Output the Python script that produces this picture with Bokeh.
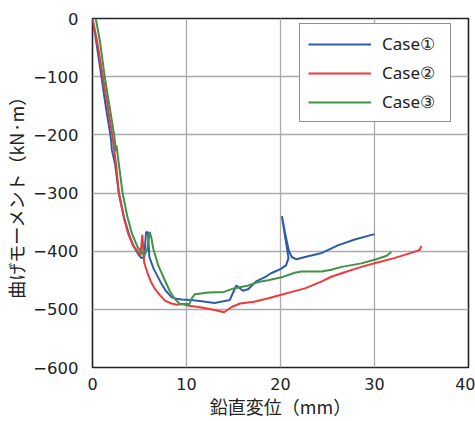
from bokeh.plotting import figure
from bokeh.models import Range1d, FixedTicker, Legend, LegendItem
from bokeh.embed import file_html
from bokeh.resources import INLINE

# ---- data (x: 鉛直変位 mm, y: 曲げモーメント kN·m) ----
case1_x = [0, 0.4, 0.95, 1.4, 1.9, 2.0, 2.05, 2.4, 2.8, 3.4, 3.9, 4.4, 4.9, 5.2, 5.5, 5.7, 5.9, 6.05,
           6.5, 7.3, 7.8, 8.4, 8.9, 9.5, 10.5, 11.6, 13.0, 14.6, 15.3, 16.0, 16.6, 17.4, 18.3, 19.0,
           20.1, 20.6, 20.85, 20.15, 20.5, 20.9, 21.2, 21.7, 22.6, 24.4, 26.1, 27.9, 29.7, 30.0]
case1_y = [0, -40, -100, -150, -200, -212, -225, -250, -300, -345, -372, -392, -406, -412, -410, -367, -368, -410,
           -430, -455, -468, -479, -482, -483, -484, -486, -489, -484, -459, -468, -465, -452, -445, -438,
           -430, -424, -412, -340, -370, -400, -410, -414, -410, -403, -390, -380, -372, -371]

case2_x = [0, 0.5, 1.1, 1.6, 2.1, 2.5, 2.8, 3.3, 3.8, 4.3, 4.8, 5.1, 5.3, 5.5, 5.8, 6.2, 6.6, 7.2,
           7.7, 8.4, 9.0, 9.5, 10.3, 11.6, 13.0, 14.0, 14.8, 15.7, 17.2, 18.7, 20.1, 21.2, 22.6, 24.4,
           25.4, 26.5, 28.6, 30.2, 32.1, 33.9, 34.8, 35.0]
case2_y = [0, -40, -100, -150, -200, -250, -300, -340, -370, -390, -400, -408, -372, -420, -435, -452, -464, -476,
           -485, -490, -492, -491, -494, -497, -501, -505, -496, -490, -487, -481, -475, -470, -464, -452,
           -444, -438, -427, -420, -412, -403, -398, -391]

case3_x = [0.35, 0.8, 1.3, 1.8, 2.3, 2.5, 2.55, 2.8, 3.2, 3.7, 4.2, 4.8, 5.2, 5.5, 5.8, 6.1, 6.3, 6.45,
           7.0, 7.7, 8.2, 8.7, 9.3, 10.3, 10.6, 10.9, 12.3, 14.0, 15.0, 16.6, 17.6, 18.7, 20.1, 21.5,
           22.2, 24.4, 25.4, 26.5, 28.6, 30.2, 31.3, 31.8]
case3_y = [0, -40, -100, -150, -200, -228, -218, -250, -300, -340, -370, -393, -402, -407, -398, -367, -380, -395,
           -425, -450, -468, -481, -491, -491, -480, -474, -471, -470, -464, -459, -453, -450, -445, -437,
           -435, -435, -432, -427, -421, -414, -408, -401]

series_names = ["Case①", "Case②", "Case③"]
series_colors = ["#2d5ca8", "#ee3a3a", "#3d9447"]

x_ticks = [0, 10, 20, 30, 40]
y_ticks = [0, -100, -200, -300, -400, -500, -600]
y_tick_labels = ["0", "−100", "−200", "−300", "−400", "−500", "−600"]

x_title = "鉛直変位（mm）"
y_title = "曲げモーメント（kN·m）"

# ---- figure ----
p = figure(width=475, height=421, output_backend="svg", toolbar_location=None,
           x_range=Range1d(0, 40), y_range=Range1d(-600, 0),
           min_border_left=91, min_border_right=7, min_border_top=18, min_border_bottom=53)
p.background_fill_color = "white"
p.border_fill_color = "white"
p.outline_line_color = "#222222"
p.outline_line_width = 1.6
p.outline_line_alpha = 1.0

p.xaxis.ticker = FixedTicker(ticks=x_ticks)
p.yaxis.ticker = FixedTicker(ticks=y_ticks)
p.yaxis.major_label_overrides = {t: l for t, l in zip(y_ticks, y_tick_labels)}

for ax in (p.xaxis, p.yaxis):
    ax.axis_line_color = None
    ax.major_tick_line_color = None
    ax.minor_tick_line_color = None
    ax.major_label_text_font = "DejaVu Sans"
    ax.major_label_text_font_size = "16px"
    ax.major_label_text_color = "#222222"
    ax.axis_label_text_font = "Noto Sans CJK JP"
    ax.axis_label_text_font_size = "18px"
    ax.axis_label_text_font_style = "normal"
    ax.axis_label_text_color = "#222222"

p.yaxis.major_label_text_font_size = "16.5px"
p.xaxis.major_label_standoff = 4
p.yaxis.major_label_standoff = 8
p.xaxis.axis_label = x_title
p.yaxis.axis_label = y_title
p.xaxis.axis_label_standoff = 0
p.yaxis.axis_label_standoff = 1

p.xgrid.grid_line_color = "#aaaaaa"
p.ygrid.grid_line_color = "#aaaaaa"
p.xgrid.grid_line_width = 1.3
p.ygrid.grid_line_width = 1.3

xs = [case1_x, case2_x, case3_x]
ys = [case1_y, case2_y, case3_y]
renderers = []
for x, y, c in zip(xs, ys, series_colors):
    r = p.line(x, y, line_color=c, line_width=2.0)
    renderers.append(r)

legend = Legend(items=[LegendItem(label=n, renderers=[r]) for n, r in zip(series_names, renderers)],
                location=(207, 245))
legend.border_line_color = "#222222"
legend.border_line_width = 1.2
legend.background_fill_color = "white"
legend.background_fill_alpha = 1.0
legend.label_text_font = "Noto Sans"
legend.label_text_font_size = "17px"
legend.label_text_color = "#222222"
legend.glyph_width = 63
legend.glyph_height = 16
legend.label_standoff = 11
legend.label_width = 60
legend.spacing = 6
legend.padding = 8
legend.margin = 0
p.add_layout(legend, "center")

open("out.html", "w").write(file_html(p, INLINE))
